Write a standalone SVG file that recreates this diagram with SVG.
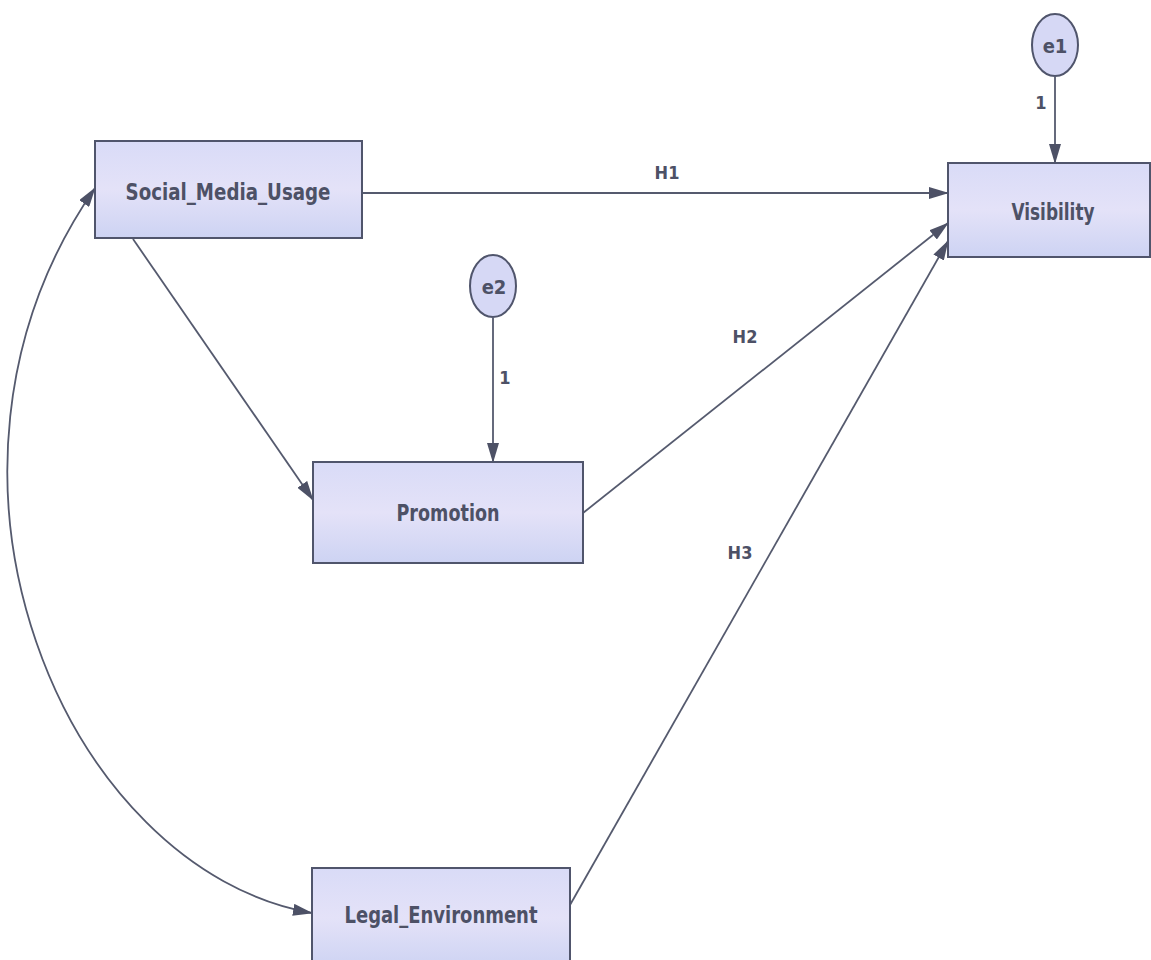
<svg xmlns="http://www.w3.org/2000/svg" width="1151" height="960" viewBox="0 0 1151 960">
  <defs>
    <linearGradient id="boxfill" x1="0" y1="0" x2="0" y2="1">
      <stop offset="0" stop-color="#d9dbf7"/>
      <stop offset="0.5" stop-color="#e4e2f8"/>
      <stop offset="1" stop-color="#cdd3f3"/>
    </linearGradient>
    <marker id="arrow" viewBox="0 0 20 12" refX="19" refY="6" markerWidth="20" markerHeight="12" markerUnits="userSpaceOnUse" orient="auto-start-reverse">
      <path d="M0,0 L20,6 L0,12 Z" fill="#4d5166"/>
    </marker>
    <style>
      .box { fill: url(#boxfill); stroke: #50556c; stroke-width: 2; }
      .err { fill: #d6d8f5; stroke: #50556c; stroke-width: 2; }
      .lbl { font-family: "Liberation Sans Narrow", "DejaVu Sans Condensed", "Liberation Sans", sans-serif; font-weight: bold; fill: #4d5166; text-anchor: middle; }
      .node { font-size: 23px; }
      .small { font-size: 18px; }
      .elbl { font-size: 20px; }
      .conn { fill: none; stroke: #555a6e; stroke-width: 1.8; marker-end: url(#arrow); }
    </style>
  </defs>
  <rect width="1151" height="960" fill="#ffffff"/>

  <g id="connectors">
    <line class="conn" x1="362" y1="193" x2="948" y2="193"/>
    <line class="conn" x1="133" y1="239" x2="313" y2="500"/>
    <line class="conn" x1="583" y1="513" x2="948" y2="223"/>
    <line class="conn" x1="570" y1="905" x2="948" y2="241"/>
    <line class="conn" x1="1055" y1="77" x2="1055" y2="163"/>
    <line class="conn" x1="493" y1="318" x2="493" y2="462"/>
    <path class="conn" d="M 312 913 C 65 870, -104 475, 95 188" marker-start="url(#arrow)"/>
    <text class="lbl small" x="667" y="179">H1</text>
    <text class="lbl small" x="745" y="343">H2</text>
    <text class="lbl small" x="740" y="559">H3</text>
    <text class="lbl small" x="1041" y="109">1</text>
    <text class="lbl small" x="505" y="384">1</text>
  </g>

  <g id="social_media_usage">
    <rect class="box" x="95" y="141" width="267" height="97"/>
    <text class="lbl node" x="228" y="200" textLength="205" lengthAdjust="spacingAndGlyphs">Social_Media_Usage</text>
  </g>

  <g id="visibility">
    <rect class="box" x="948" y="163" width="202" height="94"/>
    <text class="lbl node" x="1053" y="220" textLength="83" lengthAdjust="spacingAndGlyphs">Visibility</text>
  </g>

  <g id="promotion">
    <rect class="box" x="313" y="462" width="270" height="101"/>
    <text class="lbl node" x="448" y="521" textLength="103" lengthAdjust="spacingAndGlyphs">Promotion</text>
  </g>

  <g id="legal_environment">
    <rect class="box" x="312" y="868" width="258" height="100"/>
    <text class="lbl node" x="441" y="923" textLength="193" lengthAdjust="spacingAndGlyphs">Legal_Environment</text>
  </g>

  <g id="e1">
    <ellipse class="err" cx="1055" cy="45" rx="23" ry="31"/>
    <text class="lbl elbl" x="1055" y="53">e1</text>
  </g>

  <g id="e2">
    <ellipse class="err" cx="493" cy="286" rx="23" ry="31"/>
    <text class="lbl elbl" x="494" y="294">e2</text>
  </g>
</svg>
